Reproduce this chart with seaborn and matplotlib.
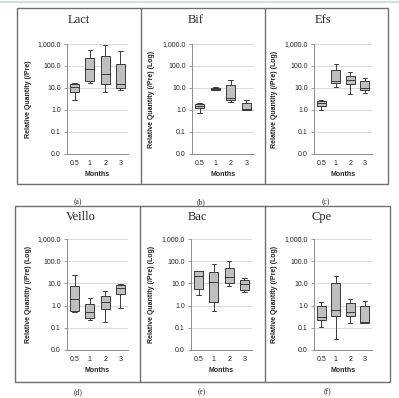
import matplotlib
matplotlib.use("Agg")
import matplotlib.pyplot as plt
import matplotlib.ticker as mticker
from matplotlib.lines import Line2D
from matplotlib.patches import Rectangle
import seaborn as sns
import pandas as pd

sns.set_style("white")
plt.rcParams['font.family'] = ['Liberation Sans', 'DejaVu Sans']

# ---- data: per group [min, q1, median, q3, max] ----
months = ["0.5", "1", "2", "3"]
panels = ["Lact", "Bif", "Efs", "Veillo", "Bac", "Cpe"]
captions = ["(a)", "(b)", "(c)", "(d)", "(e)", "(f)"]

lact = [[2.8, 6.5, 11, 16, 17], [17, 21, 76, 240, 550], [6.6, 15, 42, 275, 900], [8, 10, 15, 127, 460]]
bif = [[0.75, 1.2, 1.6, 1.9, 2.1], [8, 8.5, 9.4, 10, 11], [2.3, 2.9, 3.5, 13, 22], [0.95, 1.0, 1.1, 2.1, 2.9]]
efs = [[0.95, 1.6, 2.1, 2.7, 3.0], [11, 16.5, 21, 68, 122], [5.3, 15, 24, 36, 55], [6, 8, 9.8, 21, 30]]
veillo = [[0.54, 0.6, 2.0, 8, 23], [0.23, 0.27, 0.5, 1.17, 2.3], [0.19, 0.68, 1.4, 2.8, 4.4], [0.8, 3.3, 6.2, 8.7, 9.3]]
bac = [[2.9, 5.6, 21, 36, 38], [0.58, 1.4, 11, 33, 73], [7.8, 10, 20, 49, 105], [4, 5.3, 9.5, 14, 17]]
cpe = [[0.11, 0.23, 0.31, 0.95, 1.45], [0.03, 0.34, 0.65, 10.7, 21], [0.16, 0.34, 0.53, 1.25, 2.0], [0.16, 0.17, 0.19, 0.95, 1.6]]
all_data = [lact, bif, efs, veillo, bac, cpe]

ytick_vals = [0.01, 0.1, 1, 10, 100, 1000]
ytick_labels = ["0.0", "0.1", "1.0", "10.0", "100.0", "1,000.0"]
ylabels = ["Relative Quantity (/Pre)"] + ["Relative Quantity (/Pre) (Log)"] * 5

W, H = 399, 398
fig = plt.figure(figsize=(W / 100, H / 100), dpi=100)

def fx(x):
    return x / W

def fy(y):
    return 1 - y / H

# axes boxes in pixels: (left, top, right, bottom)
axes_px = [(67, 44, 128, 154), (192, 44, 254, 154), (314, 44, 372, 154),
           (67, 239, 128, 350), (191, 239, 252, 350), (314, 239, 372, 350)]
title_px = [(79, 20), (196, 20), (323, 20), (81, 217), (197, 217), (322, 217)]
caption_px = [(78, 202), (201, 202), (326, 202), (78, 392), (202, 392), (327, 392)]
ylabel_x = [32, 155, 278, 32, 155, 278]

grid_c = '#d9d9d9'
spine_c = '#8c8c8c'

for i, name in enumerate(panels):
    l, t, r, b = axes_px[i]
    ax = fig.add_axes([fx(l), fy(b), fx(r - l), (b - t) / H])
    rows = []
    for m, vals in zip(months, all_data[i]):
        for v in vals:
            rows.append({"month": m, "value": v})
    df = pd.DataFrame(rows)
    sns.boxplot(data=df, x="month", y="value", order=months, ax=ax,
                log_scale=True, whis=(0, 100), color='#bfbfbf',
                linecolor='#3a3a3a', linewidth=0.7, width=0.6, fliersize=0)
    ax.set_ylim(0.01, 1000)
    ax.set_xlim(-0.5, 3.5)
    ax.yaxis.set_major_locator(mticker.FixedLocator(ytick_vals))
    ax.yaxis.set_major_formatter(mticker.FixedFormatter(ytick_labels))
    ax.yaxis.set_minor_locator(mticker.NullLocator())
    ax.set_xticks(range(4))
    ax.set_xticklabels(months)
    ax.xaxis.set_minor_locator(mticker.FixedLocator([0.5, 1.5, 2.5, 3.5]))
    ax.tick_params(axis='x', which='major', length=0, labelsize=5, pad=4, colors='#222222')
    ax.tick_params(axis='x', which='minor', length=2.5, width=0.6, color=spine_c, direction='out')
    ax.tick_params(axis='y', which='major', length=2.5, width=0.6, color=spine_c, labelsize=5, pad=2, labelcolor='#222222', left=True)
    ax.yaxis.grid(True, color=grid_c, linewidth=0.7)
    ax.xaxis.grid(False)
    ax.set_axisbelow(True)
    for s in ['top', 'right']:
        ax.spines[s].set_visible(False)
    for s in ['left', 'bottom']:
        ax.spines[s].set_color(spine_c)
        ax.spines[s].set_linewidth(0.7)
    ax.set_xlabel("Months", fontsize=5, fontweight='bold', labelpad=3)
    ax.set_ylabel(ylabels[i], fontsize=5, fontweight='bold', labelpad=4)
    ax.yaxis.set_label_coords(-(l - ylabel_x[i]) / (r - l), 0.5)
    ax.patch.set_alpha(0)
    tx, ty = title_px[i]
    fig.text(fx(tx), fy(ty), name, ha='center', va='center', fontsize=9,
             family=['Liberation Serif', 'DejaVu Serif'])
    cx, cy = caption_px[i]
    fig.text(fx(cx), fy(cy), captions[i], ha='center', va='center', fontsize=5.5,
             family=['Liberation Serif', 'DejaVu Serif'])

# panel frames
border_c = '#707070'
for (x0, y0, x1, y1, divs) in [(17, 8, 388, 184, (141, 265)), (15, 206, 390, 382, (140, 265))]:
    fig.add_artist(Rectangle((fx(x0), fy(y1)), fx(x1 - x0), (y1 - y0) / H,
                             transform=fig.transFigure, fill=False,
                             edgecolor=border_c, linewidth=1.0))
    for d in divs:
        fig.add_artist(Line2D([fx(d), fx(d)], [fy(y1), fy(y0)], transform=fig.transFigure,
                              color=border_c, linewidth=1.0))

# thin top line
fig.add_artist(Line2D([0, 1], [fy(1.5), fy(1.5)], transform=fig.transFigure,
                      color='#cfe0df', linewidth=1.5))

fig.savefig("out.png", dpi=100, facecolor='white')
